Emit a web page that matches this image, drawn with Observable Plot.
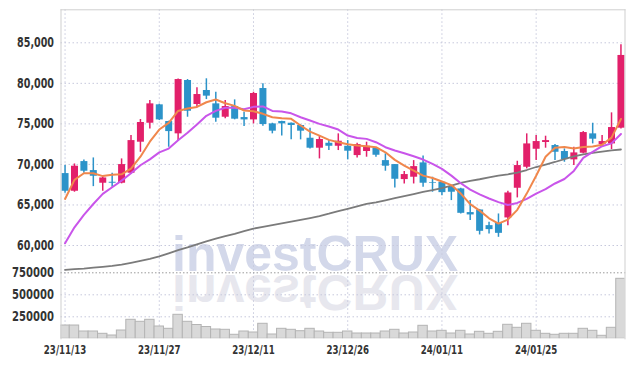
<!DOCTYPE html>
<html><head><meta charset="utf-8">
<script src="https://cdn.jsdelivr.net/npm/d3@7"></script>
<script src="https://cdn.jsdelivr.net/npm/@observablehq/plot@0.6"></script>
<style>
html,body{margin:0;padding:0;background:#fff;}
#chart{position:relative;width:634px;height:366px;overflow:hidden;background:#fff;}
#chart svg{position:absolute;left:0;top:0;}
</style></head><body><div id="chart"></div>
<script>
// ---- data ----
const tickIdx = [0, 10, 20, 30, 40, 50];
const tickLabels = ["23/11/13", "23/11/27", "23/12/11", "23/12/26", "24/01/11", "24/01/25"];
const priceTicks = [60000, 65000, 70000, 75000, 80000, 85000];
const volTicks = [250000, 500000, 750000];

const open = [68870,66690,70350,69240,67680,67800,67680,68910,72740,75080,77350,75290,73770,80350,77390,79120,77470,75820,77140,75780,75490,79360,75000,75290,75080,74800,73230,72000,72610,72240,72240,71090,71590,71960,70470,69980,68130,68420,70190,67760,67800,67180,66980,64060,64380,62450,62740,63400,67060,69650,71870,72700,72330,71590,70560,71380,73770,72450,72530,74470];
const high = [69860,70060,70560,70800,68420,68910,70680,73560,75540,77880,77430,75330,80520,80470,79450,80560,78910,77880,77960,76440,78900,79940,75080,75330,75120,74880,74470,73440,72940,73770,72940,72610,72740,72000,71300,70000,69120,70470,71050,68420,67900,67390,67050,65540,64450,62860,63890,66690,70390,73770,73560,73480,72450,71910,72120,74050,75080,73560,76360,84750];
const low = [66440,66570,68910,67260,66690,67180,67600,68750,71500,74380,75410,72120,72940,75820,76980,78000,75210,75620,75500,74670,75000,74710,73770,73520,73030,73030,71910,70680,71710,71710,70560,70800,70890,70890,69160,67100,67590,67590,67180,66570,66150,65540,63890,63070,61300,61420,61010,62450,65870,69450,70470,72000,70470,70270,69860,71300,72530,72120,71830,74380];
const close = [66690,69780,69160,68540,68330,67680,69980,72940,75170,77470,75490,74050,80470,76560,78620,78420,75700,77140,75580,75490,78750,74920,74100,75000,74800,74100,72000,73070,72240,72860,71630,72450,72240,71130,69780,68170,68750,69730,67680,67680,66520,66570,63970,63770,61750,61960,61500,66480,69860,72530,72820,72940,71500,70600,71420,73930,73110,72820,74550,83440];
const volume = [151000,151000,83000,83000,56800,37500,94300,215900,193200,215900,139800,113600,272700,193200,156800,134100,105700,102300,45500,83000,71600,170500,48900,113600,102300,86400,113600,83000,68200,68200,83000,60200,60200,60200,83000,102300,60200,71600,147700,83000,90900,60200,90900,48900,79500,56800,79500,159100,125000,170500,90900,56800,45500,56800,56800,113600,90900,34100,125000,681800];
const ma5 = [65740,68090,68910,68910,68560,68720,68780,69470,70950,72800,74300,75120,76590,76900,77090,77670,78000,77550,77220,76650,76560,76240,75820,75700,75620,74800,74050,73560,73030,72740,72500,72330,72240,72120,71500,70560,69860,69240,68620,68330,67900,67450,66400,65100,64300,63350,62700,63200,64400,66400,68600,70950,72050,72150,71950,72150,72200,72420,73300,75600];
const ma10 = [60270,62240,63770,65120,66360,67180,68000,68910,69900,70620,71480,71950,72980,73900,74920,76000,76600,76990,77000,76800,77100,77150,76600,76520,76300,75820,75420,75000,74670,74300,73560,73270,73150,72740,72120,71710,71380,71000,70600,70060,69450,68620,67680,66900,66300,65800,65350,65000,65250,65760,66400,66950,67650,68200,69200,70800,71550,72250,72600,73750];
const ma60 = [57000,57090,57160,57260,57370,57490,57650,57860,58090,58340,58650,59040,59420,59760,60150,60520,60840,61150,61440,61760,62090,62300,62520,62740,62950,63170,63390,63630,63920,64240,64530,64840,65120,65330,65580,65830,66080,66340,66600,66830,67090,67380,67710,67980,68170,68390,68610,68780,69000,69310,69680,69980,70300,70650,70980,71250,71430,71590,71720,71840];

const rows = open.map((o, i) => ({i, open: o, high: high[i], low: low[i], close: close[i], vol: volume[i], ma5: ma5[i], ma10: ma10[i], ma60: ma60[i]}));

// ---- styles ----
const UP = "#e2206a", DOWN = "#2c93c9";
const GRID = "#c6c8dc";
const FONT = "'DejaVu Sans Condensed','DejaVu Sans',sans-serif";
const xDomain = [-0.43, 59.43];
const W = 634, H = 366, ML = 60.5, MR = 9.5;
const col = d => d.close >= d.open ? UP : DOWN;

// narrow the axis labels horizontally (condensed face look)
function squeeze(svg, selector, sx) {
  d3.select(svg).selectAll(selector).each(function() {
    const t = d3.select(this);
    const x = +(t.attr("x") || 0);
    const tr = t.attr("transform") || "";
    t.attr("x", x / sx).attr("transform", (tr + ` scale(${sx},1)`).trim());
  });
}

const chart = document.getElementById("chart");

// watermark (behind everything)
const wm = d3.create("svg").attr("width", W).attr("height", H);
wm.append("text").attr("x", 172).attr("y", 271)
  .attr("font-family", "'Liberation Sans',Arial,sans-serif").attr("font-weight", "bold")
  .attr("font-size", 50).attr("fill", "#d3d8ea").text("investCRUX");
wm.append("text").attr("x", 172).attr("y", 271)
  .attr("transform", "translate(0,546) scale(1,-1)")
  .attr("font-family", "'Liberation Sans',Arial,sans-serif").attr("font-weight", "bold")
  .attr("font-size", 50).attr("fill", "#e7e7ee").text("investCRUX");
chart.appendChild(wm.node());

// price panel
const pricePlot = Plot.plot({
  width: W, height: H,
  marginLeft: ML, marginRight: MR, marginTop: 9.3, marginBottom: H - 272.3,
  style: {background: "transparent", fontFamily: FONT, fontSize: "14px", fontWeight: "bold", color: "#333"},
  x: {domain: xDomain, axis: null},
  y: {domain: [56633, 89070], ticks: priceTicks, tickFormat: d3.format(","), tickSize: 0, tickPadding: 7, label: null},
  marks: [
    Plot.ruleY(priceTicks, {stroke: GRID, strokeDasharray: "1.5,2.5", strokeWidth: 1}),
    Plot.ruleX(tickIdx, {stroke: GRID, strokeDasharray: "1.5,2.5", strokeWidth: 1}),
    Plot.ruleX(rows, {x: "i", y1: "low", y2: "high", stroke: col, strokeWidth: 1.5}),
    Plot.ruleX(rows, {x: "i", y1: "open", y2: "close", stroke: col, strokeWidth: 7}),
    Plot.line(rows, {x: "i", y: "ma60", stroke: "#7b7b7b", strokeWidth: 1.8}),
    Plot.line(rows, {x: "i", y: "ma10", stroke: "#c955ea", strokeWidth: 2}),
    Plot.line(rows, {x: "i", y: "ma5", stroke: "#f0874c", strokeWidth: 2}),
    Plot.frame({anchor: "top", stroke: "#cfcfcf"}),
    Plot.frame({anchor: "left", stroke: "#cfcfcf"}),
    Plot.frame({anchor: "right", stroke: "#cfcfcf"})
  ]
});
chart.appendChild(pricePlot);
squeeze(pricePlot, 'g[aria-label^="y-axis"] text', 0.76);

// volume panel
const volPlot = Plot.plot({
  width: W, height: H,
  marginLeft: ML, marginRight: MR, marginTop: 272.3, marginBottom: H - 338.3,
  style: {background: "transparent", fontFamily: FONT, fontSize: "14.5px", fontWeight: "bold", color: "#333"},
  x: {domain: xDomain, ticks: tickIdx, tickFormat: i => tickLabels[tickIdx.indexOf(i)], tickSize: 0, tickPadding: 6, label: null},
  y: {domain: [0, 750000], ticks: volTicks, tickFormat: d => String(d), tickSize: 0, tickPadding: 7, label: null},
  marks: [
    Plot.ruleY(volTicks.slice(0, 2), {stroke: GRID, strokeDasharray: "1.5,2.5"}),
    Plot.ruleX(tickIdx, {stroke: GRID, strokeDasharray: "1.5,2.5"}),
    Plot.rectY(rows, {x1: d => d.i - 0.5, x2: d => d.i + 0.5, y: "vol", fill: "#d9d9d9", stroke: "#b4b4b4", strokeWidth: 1, clip: true}),
    Plot.ruleY(volTicks.slice(2), {stroke: "#9a9a9a", strokeDasharray: "1.5,2"}),
    Plot.frame({anchor: "left", stroke: "#cfcfcf"}),
    Plot.frame({anchor: "right", stroke: "#cfcfcf"})
  ]
});
chart.appendChild(volPlot);
d3.select(volPlot).selectAll('g[aria-label^="x-axis"] text').attr("font-size", 13);
squeeze(volPlot, 'g[aria-label^="y-axis"] text', 0.77);
squeeze(volPlot, 'g[aria-label^="x-axis"] text', 0.74);
</script></body></html>
